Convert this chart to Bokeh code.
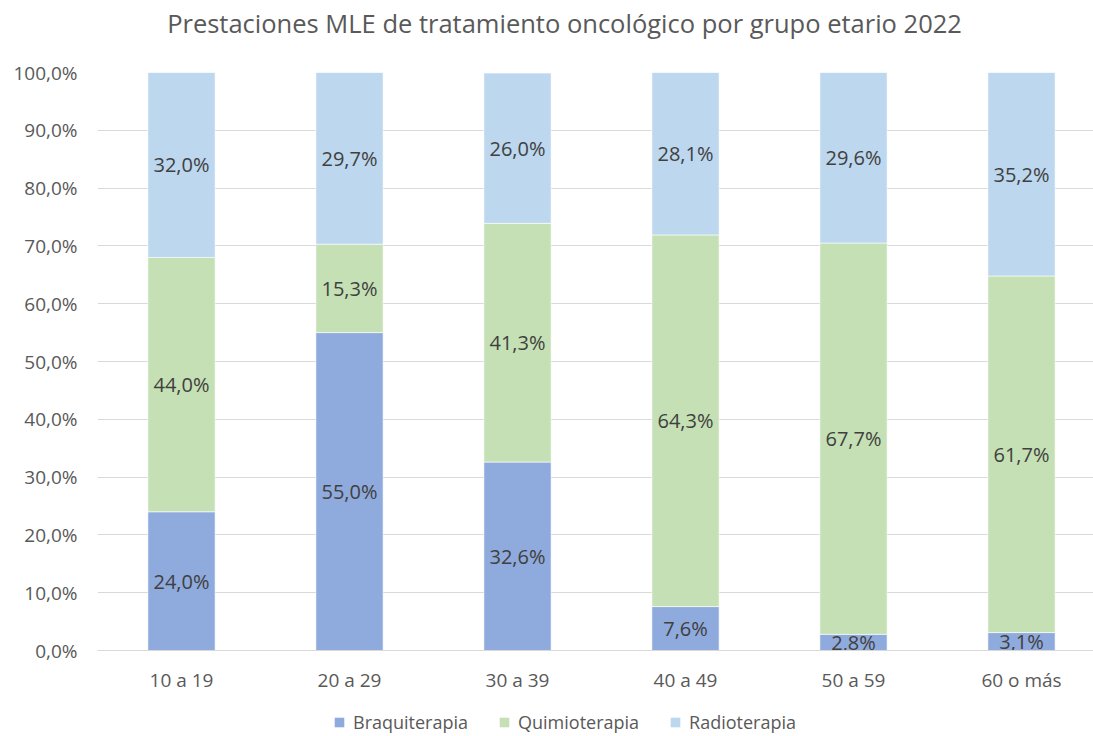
import numpy as np
from bokeh.plotting import figure
from bokeh.layouts import column
from bokeh.models import ColumnDataSource, Range1d, FixedTicker, CustomJSTickFormatter, Legend, LegendItem
from bokeh.core.properties import value
from bokeh.embed import file_html
from bokeh.resources import INLINE

title_text = "Prestaciones MLE de tratamiento oncológico por grupo etario 2022"
categories = ["10 a 19", "20 a 29", "30 a 39", "40 a 49", "50 a 59", "60 o más"]
braquiterapia = [24.0, 55.0, 32.6, 7.6, 2.8, 3.1]
quimioterapia = [44.0, 15.3, 41.3, 64.3, 67.7, 61.7]
radioterapia = [32.0, 29.7, 26.0, 28.1, 29.6, 35.2]
series_names = ["Braquiterapia", "Quimioterapia", "Radioterapia"]
colors = ["#8FAADC", "#C5E0B4", "#BDD7EE"]
y_ticks = [0, 10, 20, 30, 40, 50, 60, 70, 80, 90, 100]

FONT = "Open Sans"
x = np.arange(len(categories))

W = 1093
LEFT = 97
TITLE_H = 44
MAIN_H = 660
LEG_H = 32

# title strip (data units equal screen pixels)
tt = figure(width=W, height=TITLE_H, output_backend="svg", toolbar_location=None,
            x_range=Range1d(LEFT, W), y_range=Range1d(0, TITLE_H), x_axis_type=None, y_axis_type=None,
            min_border_left=LEFT, min_border_right=0, min_border_top=0, min_border_bottom=0)
tt.outline_line_color = None
tt.xgrid.grid_line_color = None
tt.ygrid.grid_line_color = None
tt.text(x=[564], y=[TITLE_H - 22], text=[title_text], text_align="center", text_baseline="middle",
        text_font=value(FONT), text_font_size="25.5px", text_color="#595959")

p = figure(width=W, height=MAIN_H, output_backend="svg", toolbar_location=None,
           x_range=Range1d(-0.5, -0.5 + (W - LEFT) / 168), y_range=Range1d(0, 100),
           min_border_left=LEFT, min_border_right=0, min_border_top=72 - TITLE_H, min_border_bottom=54)

vals = [braquiterapia, quimioterapia, radioterapia]
bottom = np.zeros(len(categories))
for name, v, c in zip(series_names, vals, colors):
    v = np.array(v)
    top = bottom + v
    src = ColumnDataSource(dict(x=x, bottom=bottom.copy(), top=top, mid=bottom + v / 2,
                                lab=[f"{a:.1f}%".replace(".", ",") for a in v]))
    p.vbar(x="x", bottom="bottom", top="top", width=0.4, source=src,
           fill_color=c, line_color="white", line_width=0.6)
    p.text(x="x", y="mid", text="lab", source=src, text_align="center", text_baseline="middle",
           text_font=value(FONT), text_font_size="20px", text_color="#404040")
    bottom = top

p.xaxis.ticker = FixedTicker(ticks=list(x))
p.xaxis.major_label_overrides = {int(i): c for i, c in zip(x, categories)}
p.yaxis.ticker = FixedTicker(ticks=y_ticks)
p.yaxis.formatter = CustomJSTickFormatter(code="return tick.toFixed(1).replace('.', ',') + '%';")
for ax in (p.xaxis[0], p.yaxis[0]):
    ax.major_tick_line_color = None
    ax.minor_tick_line_color = None
    ax.major_label_text_font = FONT
    ax.major_label_text_font_size = "19px"
    ax.major_label_text_color = "#595959"
p.yaxis.axis_line_color = None
p.xaxis.axis_line_color = "#D9D9D9"
p.yaxis.major_label_standoff = 14
p.xaxis.major_label_standoff = 10

p.xgrid.grid_line_color = None
p.ygrid.grid_line_color = "#D9D9D9"
p.ygrid.grid_line_width = 1
p.outline_line_color = None

# legend strip below the chart
lg = figure(width=W, height=LEG_H, output_backend="svg", toolbar_location=None,
            x_range=Range1d(0, 1), y_range=Range1d(0, 1), x_axis_type=None, y_axis_type=None,
            min_border_left=LEFT, min_border_right=0, min_border_top=0, min_border_bottom=0)
lg.outline_line_color = None
lg.xgrid.grid_line_color = None
lg.ygrid.grid_line_color = None
lrs = [lg.quad(left=[0], right=[0], top=[0], bottom=[0], fill_color=c, line_color=None) for c in colors]
legend = Legend(items=[LegendItem(label=n, renderers=[r]) for n, r in zip(series_names, lrs)],
                orientation="horizontal", location=(333 - LEFT, 2), border_line_color=None,
                background_fill_alpha=0,
                label_text_font=FONT, label_text_font_size="18px", label_text_color="#595959",
                glyph_width=12, glyph_height=12, label_standoff=8,
                spacing=30, padding=0, margin=0)
lg.add_layout(legend, "center")

layout = column(tt, p, lg, spacing=0)
open("out.html", "w").write(file_html(layout, INLINE))
